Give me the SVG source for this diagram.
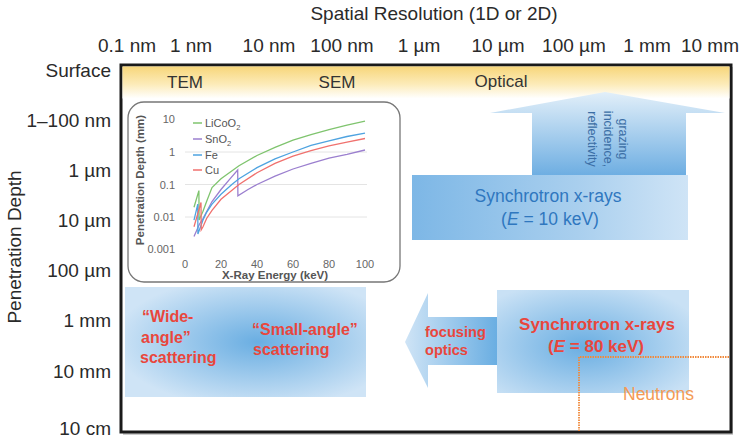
<svg xmlns="http://www.w3.org/2000/svg" width="745" height="440" viewBox="0 0 745 440">
<defs>
<linearGradient id="yel" x1="0" y1="0" x2="0" y2="1">
<stop offset="0" stop-color="#f7d67a"/><stop offset="0.55" stop-color="#fcebb8"/><stop offset="1" stop-color="#ffffff"/>
</linearGradient>
<linearGradient id="upArrow" x1="0" y1="0" x2="0" y2="1">
<stop offset="0" stop-color="#e2eff9"/><stop offset="1" stop-color="#6eaee2"/>
</linearGradient>
<linearGradient id="box10" x1="0" y1="0" x2="1" y2="0">
<stop offset="0" stop-color="#7db7e6"/><stop offset="0.6" stop-color="#a9cfee"/><stop offset="1" stop-color="#cfe4f6"/>
</linearGradient>
<radialGradient id="boxL" cx="0.55" cy="0.5" r="0.6">
<stop offset="0" stop-color="#6aaee2"/><stop offset="1" stop-color="#cfe4f6"/>
</radialGradient>
<radialGradient id="box80" cx="0.45" cy="0.55" r="0.65">
<stop offset="0" stop-color="#6aaee2"/><stop offset="1" stop-color="#c9e1f5"/>
</radialGradient>
<linearGradient id="leftArrow" x1="0" y1="0" x2="1" y2="0">
<stop offset="0" stop-color="#cfe4f6"/><stop offset="1" stop-color="#6aaee2"/>
</linearGradient>
</defs>
<style>
.ax{font-family:"Liberation Sans",Arial,sans-serif;font-size:19px;fill:#2a2a2a}
.lab{font-family:"Liberation Sans",Arial,sans-serif;font-size:17px;fill:#333}
.blue{font-family:"Liberation Sans",Arial,sans-serif;font-size:17.5px;fill:#2f77bf}
.red{font-family:"Liberation Sans",Arial,sans-serif;font-weight:bold;fill:#e9463c}
.rot{font-family:"Liberation Sans",Arial,sans-serif;font-size:12.5px;fill:#3b6ea5}
.tick{font-family:"Liberation Sans",Arial,sans-serif;font-size:11px;fill:#666}
.leg{font-family:"Liberation Sans",Arial,sans-serif;font-size:11px;fill:#555}
.axl{font-family:"Liberation Sans",Arial,sans-serif;font-size:11.5px;font-weight:bold;fill:#555}
.curve{fill:none;stroke-width:1.3}
.grid{stroke:#ddd;stroke-width:0.8}
.neut{fill:none;stroke:#f08a3c;stroke-width:1.8;stroke-dasharray:1.5 1}
</style>

<!-- axis titles -->
<g id="top-axis">
<text class="ax" x="434" y="20" text-anchor="middle" font-size="19.5">Spatial Resolution (1D or 2D)</text>
<text class="ax" x="127" y="52" text-anchor="middle">0.1 nm</text>
<text class="ax" x="191" y="52" text-anchor="middle">1 nm</text>
<text class="ax" x="269" y="52" text-anchor="middle">10 nm</text>
<text class="ax" x="342" y="52" text-anchor="middle">100 nm</text>
<text class="ax" x="419" y="52" text-anchor="middle">1 µm</text>
<text class="ax" x="498" y="52" text-anchor="middle">10 µm</text>
<text class="ax" x="574" y="52" text-anchor="middle">100 µm</text>
<text class="ax" x="647" y="52" text-anchor="middle">1 mm</text>
<text class="ax" x="710" y="52" text-anchor="middle">10 mm</text>
</g>
<g id="left-axis">
<text class="ax" font-size="18.5" x="21" y="247" text-anchor="middle" transform="rotate(-90 21 247)">Penetration Depth</text>
<text class="ax" font-size="18.5" x="111" y="77" text-anchor="end">Surface</text>
<text class="ax" font-size="18.5" x="111" y="127" text-anchor="end">1–100 nm</text>
<text class="ax" font-size="18.5" x="111" y="177" text-anchor="end">1 µm</text>
<text class="ax" font-size="18.5" x="111" y="227" text-anchor="end">10 µm</text>
<text class="ax" font-size="18.5" x="111" y="277" text-anchor="end">100 µm</text>
<text class="ax" font-size="18.5" x="111" y="327" text-anchor="end">1 mm</text>
<text class="ax" font-size="18.5" x="111" y="378" text-anchor="end">10 mm</text>
<text class="ax" font-size="18.5" x="111" y="435" text-anchor="end">10 cm</text>
</g>

<!-- frame -->
<g id="frame">
<rect x="123" y="67" width="610" height="368" fill="#999" opacity="0.5"/>
<rect x="121" y="65" width="610" height="367" fill="#fff" stroke="#1a1a1a" stroke-width="3"/>
<rect x="122.5" y="66.5" width="607" height="32" fill="url(#yel)"/>
<text class="lab" x="185" y="88" text-anchor="middle">TEM</text>
<text class="lab" x="337" y="88" text-anchor="middle">SEM</text>
<text class="lab" x="501" y="87" text-anchor="middle">Optical</text>
</g>

<!-- synchrotron 10 keV with upward arrow -->
<g id="sync10">
<path d="M532,175 L532,113 L490,113 L605,92 L725,113 L686,113 L686,175 Z" fill="url(#upArrow)"/>
<rect x="412" y="175" width="276" height="65" fill="url(#box10)"/>
<text class="rot" text-anchor="middle" transform="translate(618.5,139) rotate(90)">grazing</text>
<text class="rot" text-anchor="middle" transform="translate(603.5,139) rotate(90)">incidence,</text>
<text class="rot" text-anchor="middle" transform="translate(588,139) rotate(90)">reflectivity</text>
<text class="blue" x="548" y="202" text-anchor="middle">Synchrotron x-rays</text>
<text class="blue" x="550" y="225" text-anchor="middle">(<tspan font-style="italic">E</tspan> = 10 keV)</text>
</g>

<!-- scattering box -->
<g id="scattering">
<rect x="125" y="287" width="241" height="110" fill="url(#boxL)"/>
<text class="red" font-size="16" x="142" y="322">“Wide-</text>
<text class="red" font-size="16" x="141" y="343">angle”</text>
<text class="red" font-size="16" x="140" y="363">scattering</text>
<text class="red" font-size="16" x="252" y="335">“Small-angle”</text>
<text class="red" font-size="16" x="253" y="355">scattering</text>
</g>

<!-- focusing optics arrow -->
<g id="focusing">
<path d="M497,317 L428,317 L428,293 L405,342 L428,388 L428,365 L497,365 Z" fill="url(#leftArrow)"/>
<text class="red" font-size="14.6" x="425" y="337">focusing</text>
<text class="red" font-size="14.6" x="425" y="355">optics</text>
</g>

<!-- synchrotron 80 keV -->
<g id="sync80">
<rect x="497" y="290" width="192" height="103" fill="url(#box80)"/>
<text class="red" font-size="17" x="597" y="330" text-anchor="middle">Synchrotron x-rays</text>
<text class="red" font-size="17" x="596" y="352" text-anchor="middle">(<tspan font-style="italic">E</tspan> = 80 keV)</text>
</g>

<!-- neutrons -->
<g id="neutrons">
<path class="neut" d="M729,357 L579,357 L579,431"/>
<text font-family="Liberation Sans, Arial, sans-serif" font-size="17.5" fill="#f49a55" x="623" y="400">Neutrons</text>
</g>

<!-- inset chart -->
<g id="inset">
<rect x="128" y="102" width="272" height="180" rx="16" fill="#fff" stroke="#777" stroke-width="1.3"/>
<line class="grid" x1="185" y1="152" x2="367" y2="152"/>
<line class="grid" x1="185" y1="184.5" x2="367" y2="184.5"/>
<line class="grid" x1="185" y1="217" x2="367" y2="217"/>
<text class="tick" x="175" y="123" text-anchor="end">10</text>
<text class="tick" x="175" y="156" text-anchor="end">1</text>
<text class="tick" x="175" y="188.5" text-anchor="end">0.1</text>
<text class="tick" x="175" y="221" text-anchor="end">0.01</text>
<text class="tick" x="175" y="253" text-anchor="end">0.001</text>
<text class="tick" x="185" y="268" text-anchor="middle">0</text>
<text class="tick" x="221" y="268" text-anchor="middle">20</text>
<text class="tick" x="257" y="268" text-anchor="middle">40</text>
<text class="tick" x="293" y="268" text-anchor="middle">60</text>
<text class="tick" x="329" y="268" text-anchor="middle">80</text>
<text class="tick" x="365" y="268" text-anchor="middle">100</text>
<text class="axl" x="275" y="279" text-anchor="middle">X-Ray Energy (keV)</text>
<text class="axl" x="144" y="180" text-anchor="middle" transform="rotate(-90 144 180)">Penetration Depth (mm)</text>
<polyline class="curve" stroke="#7fc46e" points="194,207.2 198.9,190.6 199.1,220.1 203,211.3 206.6,201.5 212,187.6 221,178.8 239,165.7 257,155.5 275,147.3 293,140.2 311,134.7 329,129.6 347,125.2 365,121.1"/>
<polyline class="curve" stroke="#9b7fcf" points="194,236.6 199.4,224.2 203,218.5 212,201.5 221,189.5 230,178.8 237.7,170 237.9,195.8 248,189.5 257,184.5 275,176.2 293,169 311,163.3 329,158.1 347,154.3 365,150"/>
<polyline class="curve" stroke="#4ea3e0" points="194,220.1 197.8,204.1 197.9,234 203,220.1 206.6,212.3 212,204.1 221,194.3 231.8,184.5 239,178.8 257,167.6 275,158.8 293,152 311,145.4 329,140.9 347,136.5 365,133.2"/>
<polyline class="curve" stroke="#f0716e" points="194,226.8 201,202.5 201.2,229.9 203,226.8 206.6,218.5 212,210.4 221,199.3 239,184.5 257,172.7 275,163.3 293,156.1 311,150.7 329,145.8 347,142.2 365,138.5"/>
<line x1="193" y1="123" x2="202" y2="123" stroke="#7fc46e" stroke-width="1.5"/>
<text class="leg" x="205" y="127">LiCoO<tspan font-size="7.5" dy="3">2</tspan></text>
<line x1="193" y1="139" x2="202" y2="139" stroke="#9b7fcf" stroke-width="1.5"/>
<text class="leg" x="205" y="143">SnO<tspan font-size="7.5" dy="3">2</tspan></text>
<line x1="193" y1="155" x2="202" y2="155" stroke="#4ea3e0" stroke-width="1.5"/>
<text class="leg" x="205" y="159">Fe</text>
<line x1="193" y1="170" x2="202" y2="170" stroke="#f0716e" stroke-width="1.5"/>
<text class="leg" x="205" y="174">Cu</text>
</g>
</svg>
